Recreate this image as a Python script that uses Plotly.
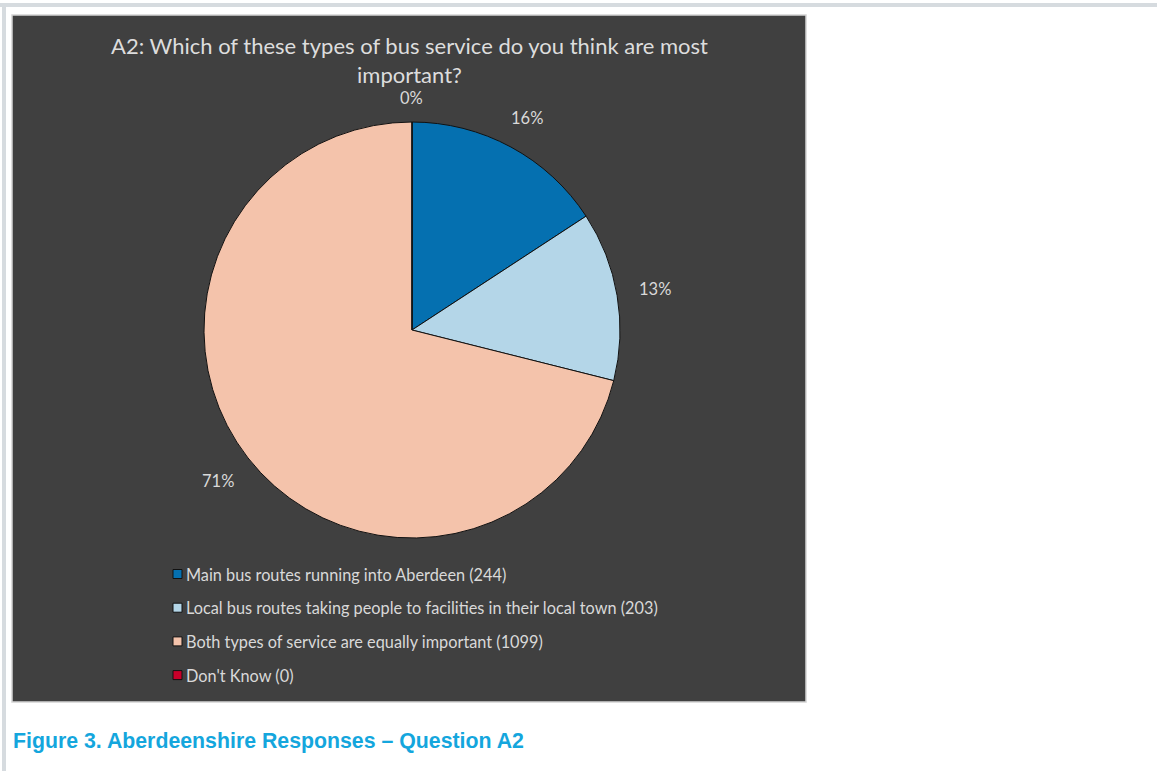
import math
import plotly.graph_objects as go

# Survey answers to question A2 (Aberdeenshire)
categories = [
    "Main bus routes running into Aberdeen",
    "Local bus routes taking people to facilities in their local town",
    "Both types of service are equally important",
    "Don't Know",
]
counts = [244, 203, 1099, 0]
colors = ["#0570B0", "#B4D6E8", "#F4C3AB", "#C8002A"]

title_text = "A2: Which of these types of bus service do you think are most<br>important?"
caption_text = "Figure 3. Aberdeenshire Responses \u2013 Question A2"

W, H = 1157, 771


def px(x):
    return x / W


def py(y):
    return 1 - y / H


# pie geometry in pixels
cx, cy, R = 412, 330, 208

fig = go.Figure()

fig.add_trace(go.Pie(
    labels=categories,
    values=counts,
    sort=False,
    direction="clockwise",
    rotation=0,
    textinfo="none",
    hoverinfo="label+value+percent",
    marker=dict(colors=colors, line=dict(color="#111111", width=1)),
    domain=dict(x=[px(cx - R), px(cx + R)], y=[py(cy + R), py(cy - R)]),
    showlegend=False,
))

annotations = []
shapes = []

# page decorations: grey rule along the top and left, dark chart panel
shapes.append(dict(type="rect", xref="paper", yref="paper",
                   x0=0, x1=1, y0=py(7), y1=py(3),
                   fillcolor="#D6DBDF", line=dict(width=0), layer="below"))
shapes.append(dict(type="rect", xref="paper", yref="paper",
                   x0=px(2), x1=px(6), y0=0, y1=py(3),
                   fillcolor="#D6DBDF", line=dict(width=0), layer="below"))
shapes.append(dict(type="rect", xref="paper", yref="paper",
                   x0=px(12), x1=px(806), y0=py(702), y1=py(15),
                   fillcolor="#404040", line=dict(color="#D3D3D3", width=1.5),
                   layer="below"))

# percentage labels placed just outside each slice's mid-angle
total = sum(counts)
cum = 0.0
gap, half_w, half_h = 15, 22, 9
for c in counts:
    frac = c / total
    mid = (cum + frac / 2) * 2 * math.pi
    cum += frac
    ux, uy = math.sin(mid), -math.cos(mid)
    dist = R + gap + half_w * abs(ux) + half_h * abs(uy)
    lx, ly = cx + dist * ux, cy + dist * uy
    annotations.append(dict(
        x=px(lx), y=py(ly), xref="paper", yref="paper",
        text=f"{round(frac * 100):.0f}%", showarrow=False,
        xanchor="center", yanchor="middle",
        font=dict(family="Lato", size=16.5, color="#D9D9D9"),
    ))

# legend rows below the pie
leg_x, leg_y0, leg_dy, sq = 173, 574, 33.7, 9
for i, (name, c, col) in enumerate(zip(categories, counts, colors)):
    yc = leg_y0 + i * leg_dy
    shapes.append(dict(type="rect", xref="paper", yref="paper",
                       x0=px(leg_x), x1=px(leg_x + sq),
                       y0=py(yc + sq / 2), y1=py(yc - sq / 2),
                       fillcolor=col, line=dict(color="#111111", width=1)))
    annotations.append(dict(
        x=px(leg_x + sq + 1.5), y=py(yc), xref="paper", yref="paper",
        text=f"{name} ({c})", showarrow=False,
        xanchor="left", yanchor="middle",
        font=dict(family="Lato", size=16.3, color="#D9D9D9"),
    ))

# chart title
annotations.append(dict(
    x=px(409), y=py(60), xref="paper", yref="paper",
    text=title_text, showarrow=False, xanchor="center", yanchor="middle",
    font=dict(family="Lato", size=22, color="#DDDDDD"),
))

# figure caption
annotations.append(dict(
    x=px(11), y=py(741), xref="paper", yref="paper",
    text=f"<b>{caption_text}</b>", showarrow=False,
    xanchor="left", yanchor="middle",
    font=dict(family="Liberation Sans, Arial", size=21.3, color="#14A6DD"),
))

fig.update_layout(
    width=W, height=H,
    margin=dict(l=0, r=0, t=0, b=0),
    paper_bgcolor="white",
    plot_bgcolor="white",
    shapes=shapes,
    annotations=annotations,
    showlegend=False,
)

fig.write_html("out.html")
